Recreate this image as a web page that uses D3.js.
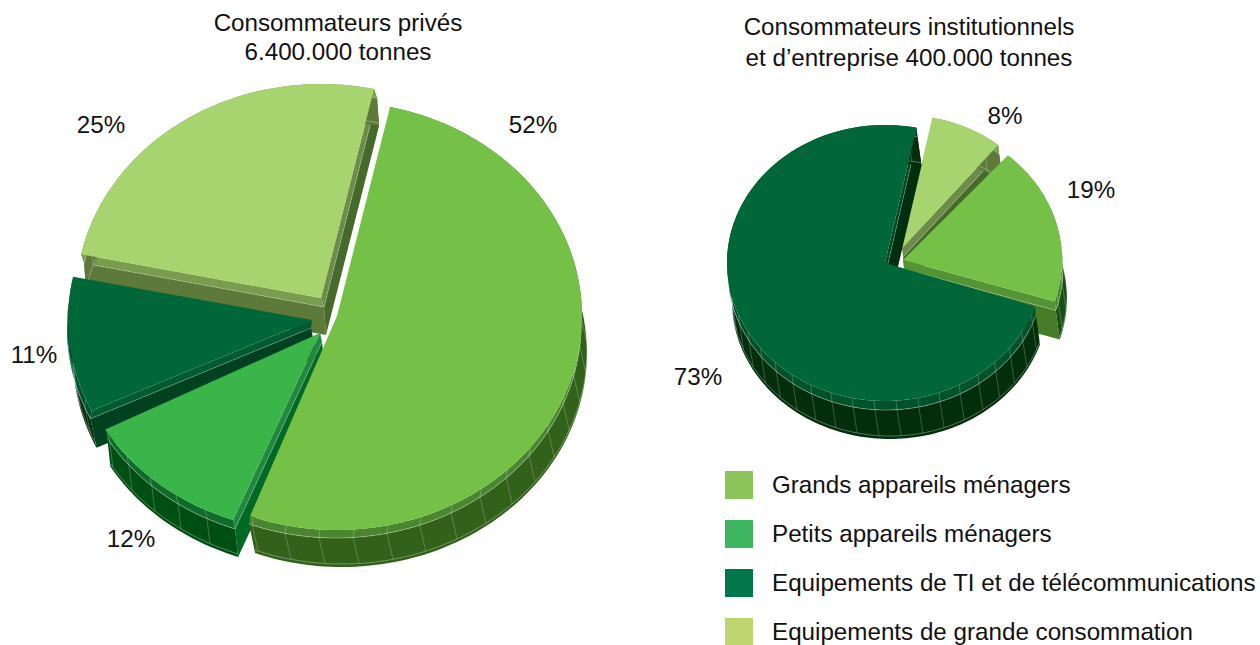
<!DOCTYPE html>
<html>
<head>
<meta charset="utf-8">
<script src="https://cdnjs.cloudflare.com/ajax/libs/d3/7.8.5/d3.min.js"></script>
<style>
    html, body { margin: 0; padding: 0; background: #fff; overflow: hidden; }
    text { font-family: "Liberation Sans", Arial, sans-serif; fill: #111; font-size: 24.2px; }
</style>
</head>
<body>
<div id="chart-area"></div>
<script>
// Data (share of each pie, in %), clockwise
const categories = ["Grands appareils ménagers", "Petits appareils ménagers",
    "Equipements de TI et de télécommunications", "Equipements de grande consommation"];
const privateValues = [52.3, 11.5, 11.0, 25.2];
const privateCategories = [0, 1, 2, 3];
const institutionalValues = [7.7, 19.2, 73.1];
const institutionalCategories = [3, 0, 2];
const titlesLeft = ["Consommateurs privés", "6.400.000 tonnes"];
const titlesRight = ["Consommateurs institutionnels", "et d’entreprise 400.000 tonnes"];

// Colours per category
const legendColors = ["#8bc45a", "#40b55f", "#00784b", "#bfd56f"];
const faces = [
    {top: "#75c046", bevel: "#4a8530", wall: "#32611a", side: "#467c28", sideBevel: "#559436"},
    {top: "#39b54a", bevel: "#0f6b2a", wall: "#004f12", side: "#006a24", sideBevel: "#22883f"},
    {top: "#006838", bevel: "#00522a", wall: "#032e0b", side: "#00421f", sideBevel: "#005c30",
        sideEnd: "#002f10", sideBevelEnd: "#00481f"},
    {top: "#a8d46f", bevel: "#7a9e50", wall: "#5d7a3a", side: "#5d7a3a", sideBevel: "#799c4e",
        sideEnd: "#466a2c", sideBevelEnd: "#6d8c48"}
];

const svg = d3.select("#chart-area").append("svg")
    .attr("width", 1260)
    .attr("height", 645);

const line = d3.line();
const toRad = Math.PI / 180;

// x/y of an angle on the tilted rim of a slice
function rimPoint(s, angle, ox, oy) {
    return [s.cx + s.rx * Math.sin(angle) + ox, s.cy - s.ry * Math.cos(angle) + oy];
}

function rimPoints(s, a0, a1, ox, oy) {
    const n = Math.max(2, Math.ceil((a1 - a0) / (1.5 * toRad)));
    return d3.range(n + 1).map(i => rimPoint(s, a0 + (a1 - a0) * i / n, ox, oy));
}

// One slice: radial walls, outer wall, bevel and top face, back to front
function drawSlice(g, s, d, face) {
    const trim = s.trim || [0, 0];
    const a0 = d.startAngle + trim[0] * toRad, a1 = d.endAngle + trim[1] * toRad;
    const bx = s.bevel[0], by = s.bevel[1], ex = s.depth[0], ey = s.depth[1];
    const wallColor = s.wall || face.wall;
    const slice = g.append("g");

    [a0, a1].forEach((a, i) => {
        // Skip a radial wall that faces away from the viewer
        const cross = s.rx * Math.sin(a) * ey + s.ry * Math.cos(a) * ex;
        if ((i === 0 && cross > 0) || (i === 1 && cross < 0)) return;

        const rim = rimPoint(s, a, 0, 0);
        const rimB = rimPoint(s, a, bx, by);
        const rimE = rimPoint(s, a, ex, ey);
        slice.append("path")
            .attr("d", line([[s.cx + bx, s.cy + by], rimB, rimE, [s.cx + ex, s.cy + ey]]) + "Z")
            .attr("fill", i === 1 && face.sideEnd ? face.sideEnd : face.side);
        slice.append("path")
            .attr("d", line([[s.cx, s.cy], rim, rimB, [s.cx + bx, s.cy + by]]) + "Z")
            .attr("fill", i === 1 && face.sideBevelEnd ? face.sideBevelEnd : face.sideBevel);
        slice.append("path")
            .attr("d", line([[s.cx + bx, s.cy + by], rimB]))
            .attr("fill", "none")
            .attr("stroke", "#fff")
            .attr("stroke-opacity", 0.3)
            .attr("stroke-width", 0.7);
    });

    // Outer wall
    const wallPts = rimPoints(s, a0, a1, bx, by).concat(rimPoints(s, a0, a1, ex, ey).reverse());
    slice.append("path").attr("d", line(wallPts) + "Z").attr("fill", wallColor);
    const bevelPts = rimPoints(s, a0, a1, 0, 0).concat(rimPoints(s, a0, a1, bx, by).reverse());
    slice.append("path").attr("d", line(bevelPts) + "Z").attr("fill", face.bevel);

    // Facet lines on the wall
    const step = 8 * toRad;
    d3.range(Math.ceil(a0 / step) * step, a1, step).forEach(a => {
        slice.append("path")
            .attr("d", line([rimPoint(s, a, 0, 0), rimPoint(s, a, bx, by)]) + "M" + rimPoint(s, a, bx, by) + "L" + rimPoint(s, a, ex, ey - 3))
            .attr("fill", "none")
            .attr("stroke", "#fff")
            .attr("stroke-opacity", 0.28)
            .attr("stroke-width", 0.8);
    });
    [[bx, by], [ex, ey - 3]].forEach(o => {
        slice.append("path")
            .attr("d", line(rimPoints(s, a0, a1, o[0], o[1])))
            .attr("fill", "none")
            .attr("stroke", "#fff")
            .attr("stroke-opacity", 0.4)
            .attr("stroke-width", 0.8);
    });

    // Top face
    const topPts = [[s.cx, s.cy]].concat(rimPoints(s, a0, a1, 0, 0));
    slice.append("path").attr("d", line(topPts) + "Z").attr("fill", face.top);
}

// Draws one exploded pie; shapes[i] gives the position of slice i, order the paint order
function drawPie(values, cats, startDeg, shapes, order, labelPos) {
    const pie = d3.pie().sort(null).value(d => d)
        .startAngle(startDeg * toRad)
        .endAngle((startDeg + 360) * toRad);
    const arcs = pie(values);
    const g = svg.append("g");
    order.forEach(i => {
        drawSlice(g, shapes[i], arcs[i], faces[cats[i]]);
    });
    labelPos.forEach((p, i) => {
        svg.append("text")
            .attr("x", p[0])
            .attr("y", p[1])
            .attr("text-anchor", "middle")
            .text(Math.round(values[i]) + "%");
    });
}

const depthL = {bevel: [-1, 8], depth: [5, 37]};
const depthR = {bevel: [1, 9], depth: [5, 38]};

drawPie(privateValues, privateCategories, 12.5, [
    {cx: 337, cy: 316, rx: 245, ry: 214, ...depthL},
    {cx: 320, cy: 333, rx: 245, ry: 200, trim: [0, -1], ...depthL, bevel: [2, 9]},
    {cx: 312, cy: 320, rx: 244, ry: 212, trim: [2.5, 0], ...depthL},
    {cx: 321, cy: 298, rx: 245, ry: 214, ...depthL, bevel: [3, 9]}
], [3, 2, 1, 0], [[533, 133], [131, 547], [34, 363], [101, 133]]);

drawPie(institutionalValues, institutionalCategories, 11.5, [
    {cx: 902, cy: 248, rx: 152, ry: 133, ...depthR},
    {cx: 903, cy: 260, rx: 159, ry: 139, wall: "#174f14", trim: [2, -1], ...depthR},
    {cx: 885, cy: 263, rx: 158, ry: 138, ...depthR}
], [0, 1, 2], [[1005, 124], [1091, 198], [698, 385]]);

// Titles
titlesLeft.forEach((t, i) => {
    svg.append("text").attr("x", 338).attr("y", 31 + i * 29).attr("text-anchor", "middle").text(t);
});
titlesRight.forEach((t, i) => {
    svg.append("text").attr("x", 909).attr("y", 35 + i * 31).attr("text-anchor", "middle").text(t);
});

// Legend
const legendY = d3.scalePoint().domain(categories).range([471, 618]);
const legend = svg.selectAll(".legend").data(categories).enter().append("g")
    .attr("class", "legend")
    .attr("transform", d => "translate(725," + legendY(d) + ")");
legend.append("rect")
    .attr("width", 28)
    .attr("height", 28)
    .attr("fill", (d, i) => legendColors[i]);
legend.append("text")
    .attr("x", 47)
    .attr("y", 22)
    .text(d => d);
</script>
</body>
</html>
